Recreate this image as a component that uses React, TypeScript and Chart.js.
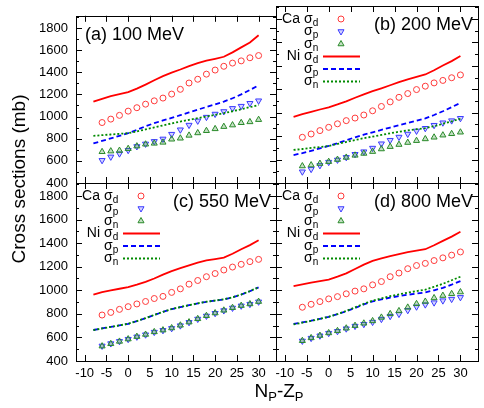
import React, { useEffect, useRef } from "react";
import { Chart, registerables } from "chart.js";

Chart.register(...registerables);

const FONT = "'Liberation Sans', Arial, Helvetica, sans-serif";
const W = 484;
const H = 408;

// ---------- data ----------
const CA_X = [-6, -4, -2, 0, 2, 4, 6, 8, 10, 12, 14, 16, 18, 20, 22, 24, 26, 28, 30];
const NI_X = [-8, -6, -4, -2, 0, 2, 4, 6, 8, 10, 12, 14, 16, 18, 20, 22, 24, 26, 28, 30];

const X_TICKS = [-10, -5, 0, 5, 10, 15, 20, 25, 30];
const Y_TICKS = [400, 600, 800, 1000, 1200, 1400, 1600, 1800];
const Y_MINOR = [500, 700, 900, 1100, 1300, 1500, 1700, 1900];

const PANEL_LABELS = ["(a) 100 MeV", "(b) 200 MeV", "(c) 550 MeV", "(d) 800 MeV"];

// 100 MeV
const CA_D_100 = [946, 977, 1011, 1049, 1080, 1112, 1142, 1167, 1203, 1246, 1303, 1337, 1383, 1420, 1454, 1483, 1503, 1531, 1551];
const CA_P_100 = [605, 636, 665, 696, 730, 753, 776, 798, 841, 881, 923, 961, 995, 1023, 1046, 1074, 1094, 1120, 1143];
const CA_N_100 = [682, 688, 693, 710, 733, 750, 758, 767, 795, 804, 830, 852, 872, 889, 909, 923, 944, 952, 972];
const NI_D_100 = [1134, 1160, 1185, 1202, 1220, 1252, 1289, 1328, 1365, 1397, 1425, 1455, 1482, 1505, 1522, 1540, 1580, 1625, 1669, 1734];
const NI_P_100 = [758, 780, 803, 826, 850, 880, 912, 940, 965, 988, 1012, 1037, 1062, 1087, 1110, 1135, 1165, 1200, 1240, 1283];
const NI_N_100 = [826, 832, 838, 844, 850, 866, 884, 902, 920, 938, 955, 970, 985, 1000, 1015, 1030, 1048, 1066, 1085, 1105];

// 200 MeV
const CA_D_200 = [790, 818, 847, 875, 905, 932, 954, 980, 1016, 1053, 1092, 1131, 1163, 1197, 1226, 1254, 1275, 1298, 1322];
const CA_P_200 = [496, 518, 550, 578, 597, 619, 645, 667, 698, 735, 765, 792, 818, 844, 867, 893, 914, 932, 952];
const CA_N_200 = [545, 553, 566, 582, 600, 618, 636, 652, 668, 690, 710, 728, 745, 761, 776, 790, 808, 820, 833];
const NI_D_200 = [965, 987, 1007, 1027, 1046, 1070, 1097, 1127, 1156, 1183, 1208, 1234, 1260, 1284, 1305, 1326, 1362, 1403, 1440, 1483];
const NI_P_200 = [638, 655, 675, 695, 716, 740, 765, 790, 812, 832, 853, 873, 893, 913, 932, 952, 980, 1012, 1047, 1083];
const NI_N_200 = [682, 690, 699, 707, 716, 733, 750, 767, 782, 796, 810, 824, 837, 849, 859, 868, 885, 905, 926, 948];

// 550 MeV
const CA_D_550 = [790, 812, 838, 861, 884, 905, 930, 948, 982, 1012, 1052, 1083, 1115, 1142, 1172, 1197, 1220, 1243, 1262];
const CA_P_550 = [528, 548, 567, 585, 605, 623, 645, 660, 677, 700, 728, 756, 782, 805, 828, 850, 868, 882, 902];
const CA_N_550 = [526, 546, 566, 586, 607, 625, 647, 662, 680, 703, 730, 758, 784, 807, 830, 852, 870, 884, 904];
const NI_D_550 = [964, 985, 1000, 1013, 1027, 1048, 1072, 1100, 1133, 1163, 1188, 1212, 1234, 1253, 1265, 1277, 1310, 1348, 1383, 1425];
const NI_P_550 = [663, 677, 690, 702, 715, 738, 763, 790, 816, 840, 857, 873, 888, 902, 912, 922, 940, 963, 992, 1025];
const NI_N_550 = [662, 676, 689, 702, 716, 739, 764, 791, 817, 841, 858, 874, 889, 903, 913, 923, 941, 964, 993, 1026];

// 800 MeV
const CA_D_800 = [856, 881, 904, 927, 946, 970, 993, 1012, 1046, 1074, 1115, 1146, 1183, 1210, 1228, 1252, 1275, 1298, 1325];
const CA_P_800 = [570, 594, 614, 636, 652, 674, 696, 712, 730, 755, 780, 798, 830, 860, 878, 895, 912, 925, 940];
const CA_N_800 = [572, 596, 616, 638, 656, 678, 700, 720, 740, 770, 800, 825, 855, 885, 905, 935, 955, 970, 985];
const NI_D_800 = [1035, 1050, 1065, 1078, 1091, 1115, 1143, 1180, 1217, 1249, 1270, 1290, 1306, 1323, 1336, 1348, 1382, 1419, 1455, 1496];
const NI_P_800 = [714, 728, 742, 758, 775, 797, 822, 850, 880, 905, 922, 938, 950, 962, 972, 982, 1000, 1020, 1048, 1078];
const NI_N_800 = [710, 725, 740, 757, 775, 798, 825, 855, 885, 912, 932, 950, 965, 980, 993, 1005, 1030, 1055, 1085, 1115];

// ---------- styles ----------
const RED_LINE = "#ff0000";
const RED_PT = "#ff3a3a";
const BLUE_LINE = "#0000ff";
const BLUE_PT = "#3a3aff";
const BLUE_FILL = "rgba(110,110,255,0.3)";
const GREEN_LINE = "#008a00";
const GREEN_PT = "#2a8a2a";
const GREEN_FILL = "rgba(60,150,60,0.3)";

type Panel = {
  label: string;
  left: number;
  top: number;
  right: number;
  bottom: number;
  showY: boolean;
  showX: boolean;
  legend: boolean;
  labelLeft: boolean;
  caD: number[];
  caP: number[];
  caN: number[];
  niD: number[];
  niP: number[];
  niN: number[];
};

const PANELS: Panel[] = [
  { label: PANEL_LABELS[0], left: 76, top: 6, right: 276, bottom: 183, showY: true, showX: false, legend: false, labelLeft: true,
    caD: CA_D_100, caP: CA_P_100, caN: CA_N_100, niD: NI_D_100, niP: NI_P_100, niN: NI_N_100 },
  { label: PANEL_LABELS[1], left: 276, top: 6, right: 478, bottom: 183, showY: false, showX: false, legend: true, labelLeft: false,
    caD: CA_D_200, caP: CA_P_200, caN: CA_N_200, niD: NI_D_200, niP: NI_P_200, niN: NI_N_200 },
  { label: PANEL_LABELS[2], left: 76, top: 183, right: 276, bottom: 361, showY: true, showX: true, legend: true, labelLeft: false,
    caD: CA_D_550, caP: CA_P_550, caN: CA_N_550, niD: NI_D_550, niP: NI_P_550, niN: NI_N_550 },
  { label: PANEL_LABELS[3], left: 276, top: 183, right: 478, bottom: 361, showY: false, showX: true, legend: true, labelLeft: false,
    caD: CA_D_800, caP: CA_P_800, caN: CA_N_800, niD: NI_D_800, niP: NI_P_800, niN: NI_N_800 },
];

const LEGEND_ROWS = [
  { prefix: "Ca", sub: "d", kind: "circle" },
  { prefix: "", sub: "p", kind: "tdown" },
  { prefix: "", sub: "n", kind: "tup" },
  { prefix: "Ni", sub: "d", kind: "red" },
  { prefix: "", sub: "p", kind: "blue" },
  { prefix: "", sub: "n", kind: "green" },
];

function drawTriangle(ctx: CanvasRenderingContext2D, x: number, y: number, r: number, down: boolean, stroke: string, fill: string) {
  ctx.beginPath();
  const s = down ? -1 : 1;
  for (let k = 0; k < 3; k++) {
    const ang = -Math.PI / 2 + (k * 2 * Math.PI) / 3;
    const px = x + r * Math.cos(ang);
    const py = y + s * r * Math.sin(ang);
    if (k === 0) ctx.moveTo(px, py);
    else ctx.lineTo(px, py);
  }
  ctx.closePath();
  ctx.fillStyle = fill;
  ctx.fill();
  ctx.strokeStyle = stroke;
  ctx.lineWidth = 1;
  ctx.stroke();
}

function drawSigma(ctx: CanvasRenderingContext2D, x: number, y: number, sub: string) {
  ctx.textAlign = "left";
  ctx.textBaseline = "middle";
  ctx.font = `14px ${FONT}`;
  ctx.fillText("σ", x, y);
  const w = ctx.measureText("σ").width;
  ctx.font = `10px ${FONT}`;
  ctx.fillText(sub, x + w, y + 4);
}

function makeDecoPlugin(p: Panel, idx: number) {
  return {
    id: "deco" + idx,
    afterDraw(chart: any) {
      const ctx: CanvasRenderingContext2D = chart.ctx;
      const a = chart.chartArea;
      const xs = chart.scales.x;
      const ys = chart.scales.y;
      ctx.save();
      ctx.strokeStyle = "#000";
      ctx.lineWidth = 1;
      ctx.setLineDash([]);
      ctx.beginPath();
      for (const v of X_TICKS) {
        const px = Math.round(xs.getPixelForValue(v)) + 0.5;
        ctx.moveTo(px, a.bottom);
        ctx.lineTo(px, a.bottom - 6);
        ctx.moveTo(px, a.top);
        ctx.lineTo(px, a.top + 6);
      }
      for (const v of Y_TICKS) {
        const py = Math.round(ys.getPixelForValue(v)) + 0.5;
        ctx.moveTo(a.left, py);
        ctx.lineTo(a.left + 6, py);
        ctx.moveTo(a.right, py);
        ctx.lineTo(a.right - 6, py);
      }
      for (const v of Y_MINOR) {
        const py = Math.round(ys.getPixelForValue(v)) + 0.5;
        ctx.moveTo(a.left, py);
        ctx.lineTo(a.left + 3, py);
        ctx.moveTo(a.right, py);
        ctx.lineTo(a.right - 3, py);
      }
      ctx.stroke();
      ctx.strokeRect(Math.round(a.left) + 0.5, Math.round(a.top) + 0.5, Math.round(a.right - a.left), Math.round(a.bottom - a.top));

      // panel label
      ctx.fillStyle = "#000";
      ctx.font = `18px ${FONT}`;
      ctx.textBaseline = "middle";
      if (p.labelLeft) {
        ctx.textAlign = "left";
        ctx.fillText(p.label, a.left + 9, a.top + 19);
      } else {
        ctx.textAlign = "right";
        ctx.fillText(p.label, a.right - 5, a.top + 19);
      }

      // legend
      if (p.legend) {
        LEGEND_ROWS.forEach((row, i) => {
          const y = a.top + 13 + i * 12.5;
          const x0 = a.left;
          ctx.fillStyle = "#000";
          if (row.prefix) {
            ctx.font = `14px ${FONT}`;
            ctx.textAlign = "right";
            ctx.textBaseline = "middle";
            ctx.fillText(row.prefix, x0 + 24, y);
          }
          drawSigma(ctx, x0 + 28, y, row.sub);
          const mx = x0 + 65;
          if (row.kind === "circle") {
            ctx.beginPath();
            ctx.arc(mx, y, 3, 0, Math.PI * 2);
            ctx.strokeStyle = RED_PT;
            ctx.lineWidth = 1;
            ctx.stroke();
          } else if (row.kind === "tdown") {
            drawTriangle(ctx, mx, y, 3.5, true, BLUE_PT, BLUE_FILL);
          } else if (row.kind === "tup") {
            drawTriangle(ctx, mx, y, 3.5, false, GREEN_PT, GREEN_FILL);
          } else {
            ctx.beginPath();
            ctx.moveTo(x0 + 47, y);
            ctx.lineTo(x0 + 84, y);
            ctx.lineWidth = 1.8;
            if (row.kind === "red") {
              ctx.strokeStyle = RED_LINE;
              ctx.setLineDash([]);
            } else if (row.kind === "blue") {
              ctx.strokeStyle = BLUE_LINE;
              ctx.setLineDash([5, 3]);
            } else {
              ctx.strokeStyle = GREEN_LINE;
              ctx.setLineDash([2, 2]);
            }
            ctx.stroke();
            ctx.setLineDash([]);
          }
        });
      }

      // shared axis titles
      if (idx === 0) {
        ctx.fillStyle = "#000";
        ctx.save();
        ctx.translate(25, 179);
        ctx.rotate(-Math.PI / 2);
        ctx.font = `19px ${FONT}`;
        ctx.textAlign = "center";
        ctx.textBaseline = "alphabetic";
        ctx.fillText("Cross sections (mb)", 0, 0);
        ctx.restore();

        const big = `19px ${FONT}`;
        const small = `13px ${FONT}`;
        ctx.textAlign = "left";
        ctx.textBaseline = "alphabetic";
        ctx.font = big;
        const wN = ctx.measureText("N").width;
        const wMZ = ctx.measureText("-Z").width;
        ctx.font = small;
        const wP = ctx.measureText("P").width;
        const total = wN + wP + wMZ + wP;
        let x = 279 - total / 2;
        const base = 396.5;
        ctx.font = big;
        ctx.fillText("N", x, base);
        x += wN;
        ctx.font = small;
        ctx.fillText("P", x, base + 4);
        x += wP;
        ctx.font = big;
        ctx.fillText("-Z", x, base);
        x += wMZ;
        ctx.font = small;
        ctx.fillText("P", x, base + 4);
      }
      ctx.restore();
    },
  };
}

function buildChart(canvas: HTMLCanvasElement, p: Panel, idx: number) {
  const pts = (xs: number[], ys: number[]) => xs.map((x, i) => ({ x, y: ys[i] }));
  const datasets: any[] = [
    { label: "Ca σd", data: pts(CA_X, p.caD), showLine: false, pointStyle: "circle", pointRadius: 3,
      borderColor: RED_PT, backgroundColor: "rgba(0,0,0,0)", pointBorderWidth: 1, order: 0 },
    { label: "Ca σp", data: pts(CA_X, p.caP), showLine: false, pointStyle: "triangle", pointRotation: 180, pointRadius: 3.5,
      borderColor: BLUE_PT, backgroundColor: BLUE_FILL, pointBorderWidth: 1, order: -1 },
    { label: "Ca σn", data: pts(CA_X, p.caN), showLine: false, pointStyle: "triangle", pointRadius: 3.5,
      borderColor: GREEN_PT, backgroundColor: GREEN_FILL, pointBorderWidth: 1, order: -2 },
    { label: "Ni σd", data: pts(NI_X, p.niD), showLine: true, pointRadius: 0, borderColor: RED_LINE, borderWidth: 1.8,
      backgroundColor: RED_LINE, order: -3 },
    { label: "Ni σp", data: pts(NI_X, p.niP), showLine: true, pointRadius: 0, borderColor: BLUE_LINE, borderWidth: 1.8,
      borderDash: [5, 3], backgroundColor: BLUE_LINE, order: -4 },
    { label: "Ni σn", data: pts(NI_X, p.niN), showLine: true, pointRadius: 0, borderColor: GREEN_LINE, borderWidth: 1.8,
      borderDash: [2, 2], backgroundColor: GREEN_LINE, order: -5 },
  ];

  const tickFont = { family: FONT, size: 13 };

  const xScale: any = {
    type: "linear",
    min: -12,
    max: 34,
    display: p.showX,
    grid: { display: false, drawTicks: false },
    border: { display: false },
    afterBuildTicks: (s: any) => {
      s.ticks = X_TICKS.map((v) => ({ value: v }));
    },
    ticks: { font: tickFont, color: "#000", padding: 5, autoSkip: false, maxRotation: 0, minRotation: 0,
      callback: (v: any) => String(v) },
  };
  if (p.showX) {
    xScale.afterFit = (s: any) => {
      s.height = H - p.bottom;
    };
  }
  const yScale: any = {
    type: "linear",
    min: 400,
    max: 1910,
    display: p.showY,
    grid: { display: false, drawTicks: false },
    border: { display: false },
    afterBuildTicks: (s: any) => {
      s.ticks = Y_TICKS.map((v) => ({ value: v }));
    },
    ticks: { font: tickFont, color: "#000", padding: 8, autoSkip: false, callback: (v: any) => String(v) },
  };
  if (p.showY) {
    yScale.afterFit = (s: any) => {
      s.width = p.left;
    };
  }

  return new Chart(canvas, {
    type: "scatter",
    data: { datasets },
    options: {
      animation: false,
      responsive: false,
      devicePixelRatio: 1,
      events: [],
      layout: {
        padding: {
          left: p.showY ? 0 : p.left,
          right: W - p.right,
          top: p.top,
          bottom: p.showX ? 0 : H - p.bottom,
        },
      },
      plugins: { legend: { display: false }, tooltip: { enabled: false }, title: { display: false } },
      scales: { x: xScale, y: yScale },
    } as any,
    plugins: [makeDecoPlugin(p, idx)],
  });
}

function PanelCanvas({ p, idx }: { p: Panel; idx: number }) {
  const ref = useRef<HTMLCanvasElement | null>(null);
  useEffect(() => {
    if (!ref.current) return;
    const chart = buildChart(ref.current, p, idx);
    return () => chart.destroy();
  }, [p, idx]);
  return (
    <canvas
      ref={ref}
      width={W}
      height={H}
      style={{ position: "absolute", left: 0, top: 0, width: W, height: H }}
    />
  );
}

export default function App() {
  return (
    <div style={{ position: "fixed", left: 0, top: 0, width: W, height: H, background: "#fff", overflow: "hidden" }}>
      {PANELS.map((p, i) => (
        <PanelCanvas key={i} p={p} idx={i} />
      ))}
    </div>
  );
}
